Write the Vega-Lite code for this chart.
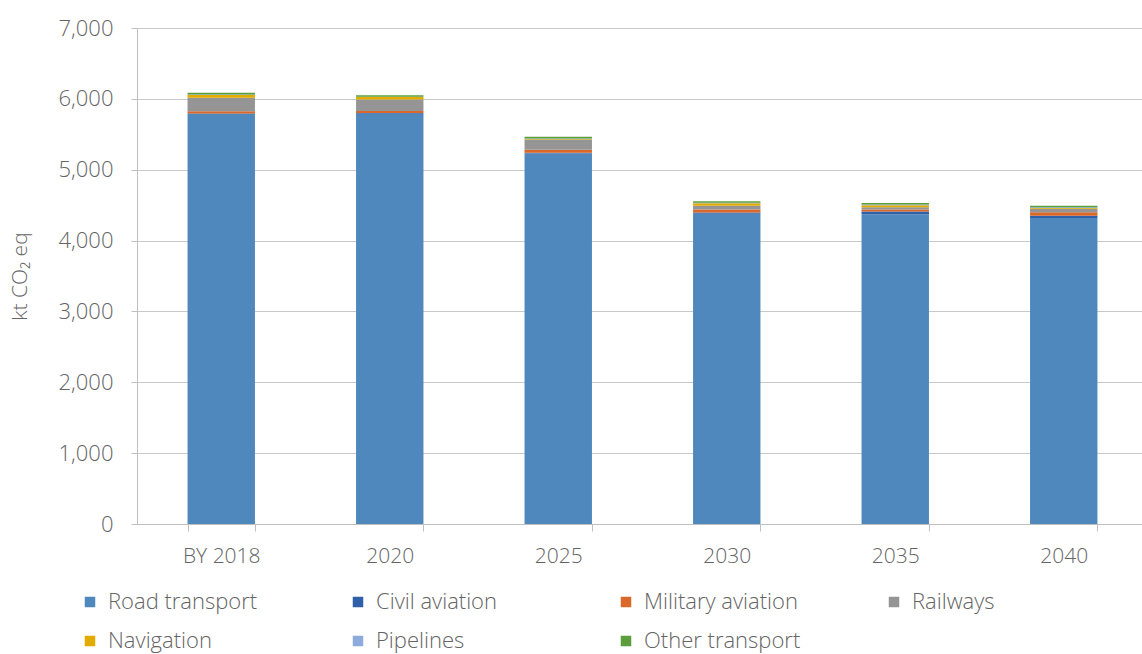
{
  "$schema": "https://vega.github.io/schema/vega-lite/v6.json",
  "autosize": {"type": "none"},
  "padding": {"left": 137, "top": 28, "right": 0, "bottom": 130},
  "width": 1011,
  "height": 496,
  "background": "white",
  "config": {
    "view": {"stroke": null},
    "font": "Open Sans",
    "axis": {"labelFont": "Open Sans", "titleFont": "Open Sans", "labelColor": "#646464", "titleColor": "#646464", "labelFontWeight": 300},
    "legend": {"labelFont": "Open Sans"}
  },
  "data": {
    "values": [
      {"year": "BY 2018", "source": "Road transport", "value": 5785},
      {"year": "BY 2018", "source": "Civil aviation", "value": 10},
      {"year": "BY 2018", "source": "Military aviation", "value": 30},
      {"year": "BY 2018", "source": "Railways", "value": 190},
      {"year": "BY 2018", "source": "Navigation", "value": 40},
      {"year": "BY 2018", "source": "Pipelines", "value": 5},
      {"year": "BY 2018", "source": "Other transport", "value": 25},
      {"year": "2020", "source": "Road transport", "value": 5790},
      {"year": "2020", "source": "Civil aviation", "value": 10},
      {"year": "2020", "source": "Military aviation", "value": 30},
      {"year": "2020", "source": "Railways", "value": 160},
      {"year": "2020", "source": "Navigation", "value": 35},
      {"year": "2020", "source": "Pipelines", "value": 5},
      {"year": "2020", "source": "Other transport", "value": 20},
      {"year": "2025", "source": "Road transport", "value": 5230},
      {"year": "2025", "source": "Civil aviation", "value": 10},
      {"year": "2025", "source": "Military aviation", "value": 40},
      {"year": "2025", "source": "Railways", "value": 140},
      {"year": "2025", "source": "Navigation", "value": 10},
      {"year": "2025", "source": "Pipelines", "value": 10},
      {"year": "2025", "source": "Other transport", "value": 25},
      {"year": "2030", "source": "Road transport", "value": 4380},
      {"year": "2030", "source": "Civil aviation", "value": 15},
      {"year": "2030", "source": "Military aviation", "value": 45},
      {"year": "2030", "source": "Railways", "value": 50},
      {"year": "2030", "source": "Navigation", "value": 35},
      {"year": "2030", "source": "Pipelines", "value": 10},
      {"year": "2030", "source": "Other transport", "value": 20},
      {"year": "2035", "source": "Road transport", "value": 4370},
      {"year": "2035", "source": "Civil aviation", "value": 40},
      {"year": "2035", "source": "Military aviation", "value": 30},
      {"year": "2035", "source": "Railways", "value": 30},
      {"year": "2035", "source": "Navigation", "value": 30},
      {"year": "2035", "source": "Pipelines", "value": 10},
      {"year": "2035", "source": "Other transport", "value": 20},
      {"year": "2040", "source": "Road transport", "value": 4320},
      {"year": "2040", "source": "Civil aviation", "value": 30},
      {"year": "2040", "source": "Military aviation", "value": 50},
      {"year": "2040", "source": "Railways", "value": 50},
      {"year": "2040", "source": "Navigation", "value": 10},
      {"year": "2040", "source": "Pipelines", "value": 10},
      {"year": "2040", "source": "Other transport", "value": 20}
    ]
  },
  "transform": [
    {"calculate": "indexof(['Road transport','Civil aviation','Military aviation','Railways','Navigation','Pipelines','Other transport'], datum.source)", "as": "stackOrder"}
  ],
  "mark": {"type": "bar"},
  "encoding": {
    "x": {
      "field": "year",
      "type": "ordinal",
      "sort": ["BY 2018", "2020", "2025", "2030", "2035", "2040"],
      "scale": {"paddingInner": 0.6, "paddingOuter": 0.3},
      "axis": {
        "title": null,
        "labelAngle": 0,
        "labelFontSize": 21,
        "labelPadding": 14,
        "tickBand": "extent",
        "tickSize": 7,
        "tickColor": "#bfbfbf",
        "domainColor": "#bfbfbf",
        "grid": false
      }
    },
    "y": {
      "field": "value",
      "type": "quantitative",
      "stack": "zero",
      "scale": {"domain": [0, 7000], "nice": false},
      "axis": {
        "title": "kt CO₂ eq",
        "titleFontSize": 21,
        "titleFontWeight": 300,
        "titlePadding": 28,
        "values": [0, 1000, 2000, 3000, 4000, 5000, 6000, 7000],
        "format": ",.0f",
        "labelFontSize": 22,
        "labelPadding": 18,
        "tickSize": 6,
        "tickColor": "#bfbfbf",
        "domain": true,
        "domainColor": "#bfbfbf",
        "grid": true,
        "gridColor": "#c8c8c8"
      }
    },
    "order": {"field": "stackOrder", "type": "quantitative", "sort": "ascending"},
    "color": {
      "field": "source",
      "type": "nominal",
      "sort": ["Road transport", "Civil aviation", "Military aviation", "Railways", "Navigation", "Pipelines", "Other transport"],
      "scale": {
        "domain": ["Road transport", "Civil aviation", "Military aviation", "Railways", "Navigation", "Pipelines", "Other transport"],
        "range": ["#4f88bd", "#3060a8", "#d9682a", "#959595", "#e2ab00", "#8eaadc", "#5c9e3c"]
      },
      "legend": {
        "title": null,
        "orient": "none",
        "legendX": -58,
        "legendY": 563,
        "direction": "horizontal",
        "columns": 4,
        "gridAlign": "all",
        "columnPadding": 82,
        "rowPadding": 17,
        "symbolType": "square",
        "symbolSize": 110,
        "symbolStrokeWidth": 0,
        "labelOffset": 7,
        "labelFontSize": 22,
        "labelFontWeight": 300,
        "labelColor": "#646464",
        "padding": 0
      }
    }
  }
}
